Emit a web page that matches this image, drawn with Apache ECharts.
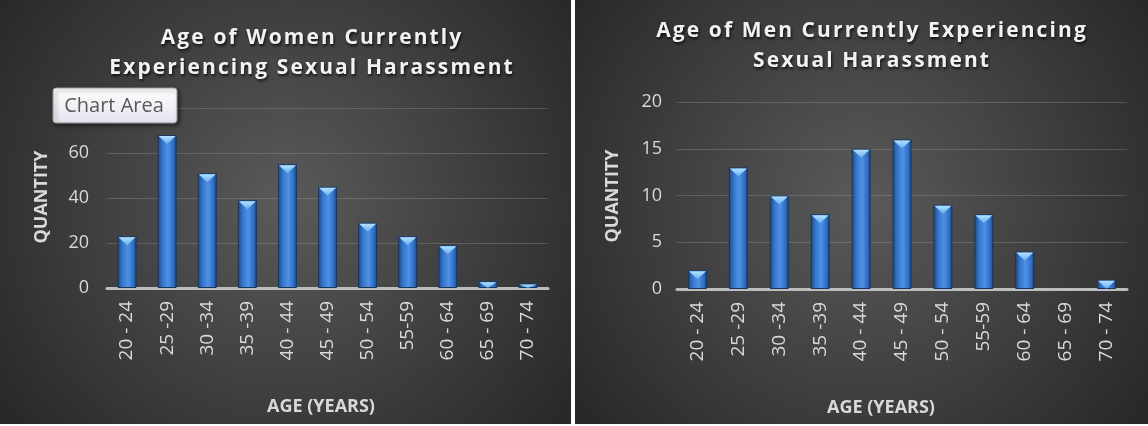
<!DOCTYPE html>
<html>
<head>
<meta charset="utf-8">
<title>Age of people currently experiencing sexual harassment</title>
<script src="https://cdn.jsdelivr.net/npm/echarts@6/dist/echarts.min.js"></script>
<style>
  html, body { margin: 0; padding: 0; background: #ffffff; }
  #chart { width: 1148px; height: 426px; }
</style>
</head>
<body>
<div id="chart"></div>
<script>
// Age brackets shared by both charts
const ageGroups = ['20 - 24', '25 -29', '30 -34', '35 -39', '40 - 44', '45 - 49', '50 - 54', '55-59', '60 - 64', '65 - 69', '70 - 74'];

// Number of respondents per age bracket
const womenCounts = [23, 68, 51, 39, 55, 45, 29, 23, 19, 3, 2];
const menCounts = [2, 13, 10, 8, 15, 16, 9, 8, 4, 0, 1];

// Value-axis tick labels
const womenTicks = [0, 20, 40, 60, 80];
const menTicks = [0, 5, 10, 15, 20];

const womenTitle = ['Age of Women Currently', 'Experiencing Sexual Harassment'];
const menTitle = ['Age of Men Currently Experiencing', 'Sexual Harassment'];
const xTitle = 'AGE (YEARS)';
const yTitle = 'QUANTITY';

const BAR_W = 19;
const FONT = '"Open Sans", "Noto Sans", sans-serif';

// spread the characters of a heading a little apart
function spaced(s) {
  return Array.from(s).join('\u200A');
}

const chart = echarts.init(document.getElementById('chart'), null, { renderer: 'canvas' });

function panelBg(x, w) {
  return {
    type: 'rect',
    z: -10,
    silent: true,
    shape: { x: x, y: 0, width: w, height: 424 },
    style: {
      fill: new echarts.graphic.RadialGradient(0.5, 0.48, 0.85, [
        { offset: 0, color: '#5a5a5a' },
        { offset: 1, color: '#272727' }
      ])
    }
  };
}

function heading(lines, cx, y0) {
  return lines.map((t, i) => ({
    type: 'text',
    z: 50,
    silent: true,
    x: cx,
    y: y0 + i * 30,
    style: {
      text: spaced(t),
      fill: '#f2f2f2',
      font: 'bold 21px ' + FONT,
      align: 'center',
      verticalAlign: 'middle',
      textShadowColor: 'rgba(0,0,0,0.75)',
      textShadowBlur: 3,
      textShadowOffsetX: 1,
      textShadowOffsetY: 2
    }
  }));
}

function axisTitle(text, cx, cy, rot) {
  return {
    type: 'text',
    z: 50,
    silent: true,
    x: cx,
    y: cy,
    rotation: rot,
    style: {
      text: text,
      fill: '#d9d9d9',
      font: 'bold 18px ' + FONT,
      align: 'center',
      verticalAlign: 'middle'
    }
  };
}

const barFill = new echarts.graphic.LinearGradient(0, 0, 1, 0, [
  { offset: 0, color: '#1b4580' },
  { offset: 0.25, color: '#3676c9' },
  { offset: 0.55, color: '#4d92e6' },
  { offset: 0.85, color: '#2f6bbe' },
  { offset: 1, color: '#183c72' }
]);

const capFill = new echarts.graphic.LinearGradient(0, 0, 0, 1, [
  { offset: 0, color: '#b4e2ff' },
  { offset: 1, color: '#64aef2' }
]);

function valueAxis(ticks, gridIndex) {
  return {
    type: 'value',
    gridIndex: gridIndex,
    min: ticks[0],
    max: ticks[ticks.length - 1],
    interval: ticks[1] - ticks[0],
    axisLine: { show: false },
    axisTick: { show: false },
    axisLabel: { color: '#d9d9d9', fontSize: 18, fontFamily: FONT, margin: gridIndex === 0 ? 18 : 15 },
    splitLine: { lineStyle: { color: 'rgba(255,255,255,0.16)', width: 1 } }
  };
}

function categoryAxis(gridIndex) {
  return {
    type: 'category',
    gridIndex: gridIndex,
    data: ageGroups,
    axisTick: { show: false },
    axisLine: { lineStyle: { color: '#bdbdbd', width: 3 } },
    axisLabel: { color: '#d9d9d9', fontSize: 19, fontFamily: FONT, rotate: 90, margin: 13, interval: 0 }
  };
}

function barSeries(values, idx) {
  return {
    type: 'bar',
    xAxisIndex: idx,
    yAxisIndex: idx,
    // an empty bracket draws no bar at all, not even its outline
    data: values.map(v => (v ? v : { value: v, itemStyle: { borderWidth: 0, opacity: 0 } })),
    barWidth: BAR_W,
    itemStyle: { color: barFill, borderColor: '#173760', borderWidth: 1 },
    silent: true,
    z: 2
  };
}

// light bevel at the top of each bar
function capSeries(values, idx) {
  return {
    type: 'custom',
    xAxisIndex: idx,
    yAxisIndex: idx,
    data: values.map((v, i) => [i, v]),
    encode: { x: 0, y: 1 },
    silent: true,
    z: 3,
    renderItem: function (params, api) {
      const v = api.value(1);
      if (!v) return null;
      const top = api.coord([api.value(0), v]);
      const base = api.coord([api.value(0), 0]);
      const h = Math.min(8, base[1] - top[1] - 1);
      if (h <= 0) return null;
      const half = BAR_W / 2 - 1;
      return {
        type: 'polygon',
        shape: { points: [[top[0] - half, top[1] + 1], [top[0] + half, top[1] + 1], [top[0], top[1] + 1 + h]] },
        style: { fill: capFill }
      };
    }
  };
}

const option = {
  backgroundColor: '#ffffff',
  animation: false,
  grid: [
    { left: 107, top: 108, width: 441, height: 180 },
    { left: 677, top: 102, width: 450, height: 187 }
  ],
  xAxis: [categoryAxis(0), categoryAxis(1)],
  yAxis: [valueAxis(womenTicks, 0), valueAxis(menTicks, 1)],
  series: [
    barSeries(womenCounts, 0),
    capSeries(womenCounts, 0),
    barSeries(menCounts, 1),
    capSeries(menCounts, 1)
  ],
  graphic: [
    panelBg(0, 571),
    panelBg(575, 573),
    ...heading(womenTitle, 311, 38),
    ...heading(menTitle, 871, 31),
    axisTitle(xTitle, 321, 407, 0),
    axisTitle(xTitle, 881, 408, 0),
    axisTitle(yTitle, 42, 197, Math.PI / 2),
    axisTitle(yTitle, 613, 196, Math.PI / 2),
    // "Chart Area" hover badge
    {
      type: 'rect',
      z: 100,
      zlevel: 1,
      silent: true,
      shape: { x: 53, y: 88, width: 124, height: 35, r: 3 },
      style: {
        fill: new echarts.graphic.LinearGradient(0, 0, 0, 1, [
          { offset: 0, color: '#ffffff' },
          { offset: 1, color: '#e4e4ee' }
        ]),
        stroke: '#9a9a9a',
        lineWidth: 1,
        shadowColor: 'rgba(0,0,0,0.5)',
        shadowBlur: 4,
        shadowOffsetX: 2,
        shadowOffsetY: 2
      }
    },
    {
      type: 'text',
      z: 101,
      zlevel: 1,
      silent: true,
      x: 114,
      y: 106,
      style: {
        text: 'Chart Area',
        fill: '#585858',
        font: '20px ' + FONT,
        align: 'center',
        verticalAlign: 'middle'
      }
    }
  ]
};

chart.setOption(option);
</script>
</body>
</html>
